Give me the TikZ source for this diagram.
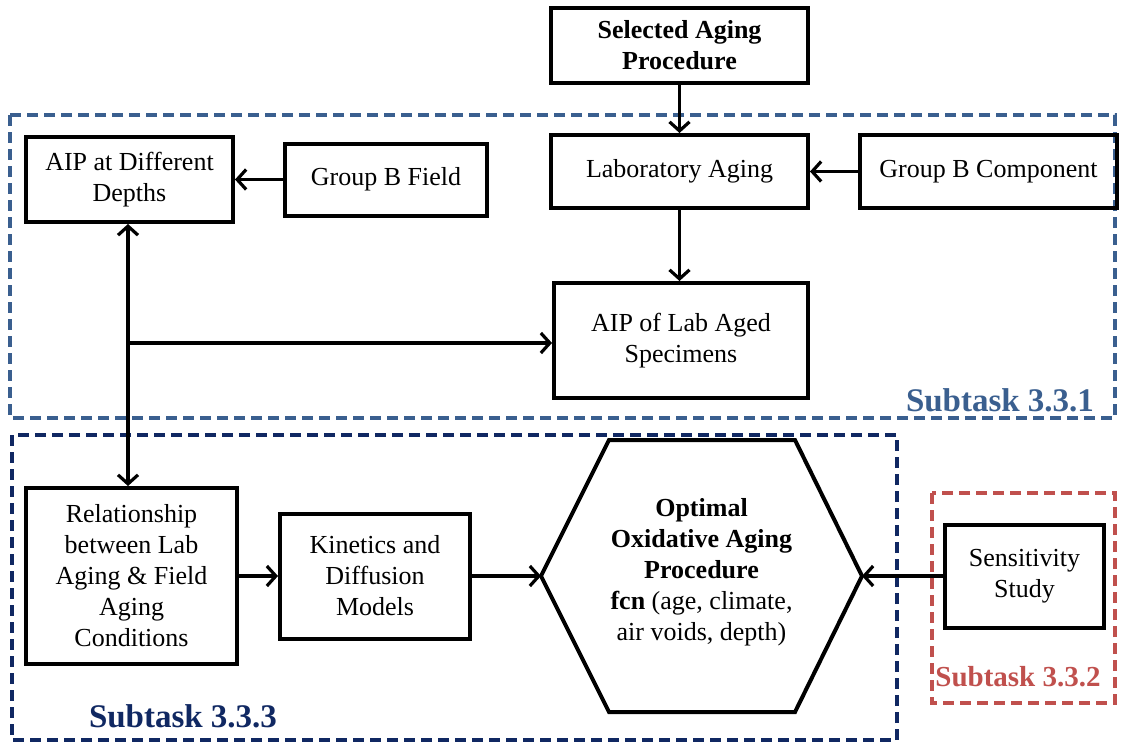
\documentclass[tikz,border=0pt]{standalone}
\usepackage{fontspec}
\setmainfont{Liberation Serif}
\usetikzlibrary{arrows.meta}
\definecolor{taskblue}{RGB}{58,95,143}
\definecolor{tasknavy}{RGB}{16,40,98}
\definecolor{taskred}{RGB}{192,80,77}
\tikzset{
every picture/.style={line width=4pt, x=1pt, y=-1pt},
box/.style={draw, rectangle, align=center, inner sep=0pt, font=\fontsize{26}{31}\selectfont},
flow/.style={line width=3.2pt, -{Straight Barb[length=9pt, width=20pt]}},
task/.style={line width=3.5pt, dash pattern=on 11pt off 6pt},
tasklabel/.style={font=\fontsize{33}{36}\selectfont\bfseries}
}

\begin{document}
\begin{tikzpicture}
    \useasboundingbox (0,0) rectangle (1121,742);
    % subtask frames
    \draw[task, taskblue] (10,115) rectangle (1115,418);
    \draw[task, tasknavy] (12,435) rectangle (897,740);
    \draw[task, taskred] (932,493) rectangle (1115,703);
    \node[tasklabel, text=taskblue] (lbl1) at (1000,400) {Subtask 3.3.1};
    \node[tasklabel, text=tasknavy] (lbl3) at (183,716) {Subtask 3.3.3};
    \node[tasklabel, text=taskred, font=\fontsize{29}{32}\selectfont\bfseries] (lbl2) at (1018,677) {Subtask 3.3.2};

    \node[box, minimum width=257pt, minimum height=75pt, font=\fontsize{26}{31}\selectfont\bfseries] (sel) at (679.5,45.5) {Selected Aging\\Procedure};
    \node[box, minimum width=257pt, minimum height=73pt] (lab) at (679.5,171.5) {Laboratory Aging};
    \node[box, minimum width=257pt, minimum height=73pt] (comp) at (988.5,171.5) {Group B Component};
    \node[box, minimum width=207pt, minimum height=85pt] (depths) at (129.5,179.5) {AIP at Different\\Depths};
    \node[box, minimum width=202pt, minimum height=72pt] (field) at (386,179.5) {Group B Field};
    \node[box, minimum width=254pt, minimum height=115pt] (labaged) at (681,340.5) {AIP of Lab Aged\\Specimens};
    \node[box, minimum width=211pt, minimum height=176pt] (rel) at (131.5,576) {Relationship\\between Lab\\Aging \& Field\\Aging\\Conditions};
    \node[box, minimum width=190pt, minimum height=125pt] (kin) at (375,576) {Kinetics and\\Diffusion\\Models};
    \node[box, minimum width=159pt, minimum height=103pt] (sens) at (1024.5,576) {Sensitivity\\Study};

    % hexagon
    \coordinate (optW) at (541,576);
    \coordinate (optE) at (862,576);
    \draw[line join=miter] (609,440) -- (795,440) -- (optE) -- (795,712) -- (609,712) -- (optW) -- cycle;
    \node[align=center, font=\fontsize{26}{31}\selectfont] (opt) at (701.5,572)
      {\textbf{Optimal}\\\textbf{Oxidative Aging}\\\textbf{Procedure}\\\textbf{fcn} (age, climate,\\air voids, depth)};

    \coordinate (split) at (128,343);
    \draw[flow] (sel) -- (lab);
    \draw[flow] (field) -- (depths);
    \draw[flow] (comp) -- (lab);
    \draw[flow] (lab.south) -- (lab.south |- labaged.north);
    \draw[flow] (split) -- (split |- depths.south);
    \draw[flow] (split) -- (split |- rel.north);
    \draw[flow] (split) -- (split -| labaged.west);
    \draw[flow] (rel) -- (kin);
    \draw[flow] (kin) -- (optW);
    \draw[flow] (sens) -- (optE);
  \end{tikzpicture}
\end{document}
